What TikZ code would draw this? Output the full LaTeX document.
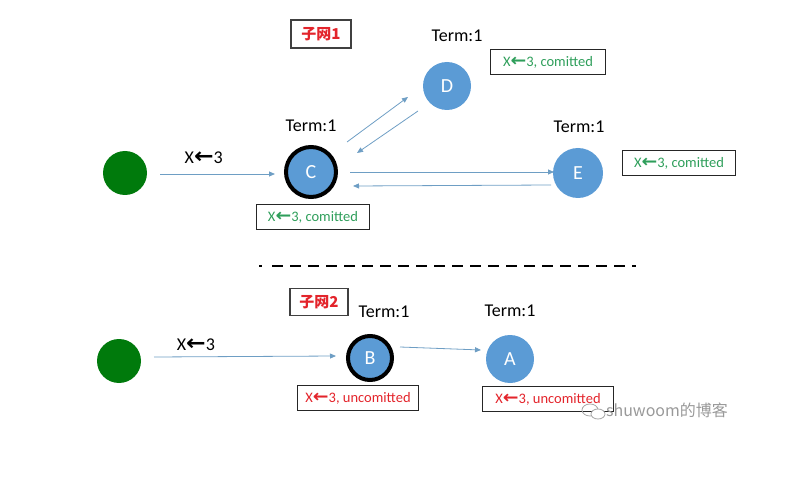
\documentclass[tikz,border=0pt]{standalone}
\usepackage{fontspec}
\setmainfont{Carlito}
\newfontfamily\cjkfont{Noto Sans CJK SC}
\newfontfamily\symfont{DejaVu Sans}
\usetikzlibrary{arrows.meta, calc}
\definecolor{cnode}{HTML}{5B9BD5}
\definecolor{cclient}{HTML}{007A0C}
\definecolor{cmsg}{HTML}{6E9EC4}
\definecolor{cok}{HTML}{2E9E5A}
\definecolor{cbad}{HTML}{E3242B}
\newcommand{\larr}{\scalebox{1.3}[1.2]{\symfont\bfseries ←}}
\tikzset{
  client/.style={circle, fill=cclient, minimum size=44pt, inner sep=0pt},
  server/.style={circle, fill=cnode, text=white, minimum size=48pt, inner sep=0pt, font=\fontsize{20}{22}\selectfont},
  leader/.style={server, draw=black, line width=4pt, minimum size=#1},
  leader/.default=50pt,
  term/.style={font=\fontsize{18}{20}\selectfont},
  logbox/.style={draw=black!85, line width=1.2pt, minimum width=#1, minimum height=25pt, inner sep=2pt, font=\fontsize{14.5}{16}\selectfont},
  logbox/.default=113pt,
  net/.style={draw=black!75, line width=1.2pt, minimum width=60pt, minimum height=28pt, text=cbad, font=\cjkfont\bfseries\fontsize{15}{17}\selectfont},
  msg/.style={-{Triangle[length=6pt,width=5pt]}, draw=cmsg, line width=0.8pt},
  msglabel/.style={font=\fontsize{18}{20}\selectfont},
  divider/.style={line width=2.8pt, dash pattern=on 11pt off 7pt},
}

\begin{document}
\begin{tikzpicture}[x=1pt, y=-1pt]
  \useasboundingbox (0,0) rectangle (801,484);
  % subnet 1
  \node[net] (net1) at (321,34) {子网1};
  \node[client] (c1) at (125,173) {};
  \node[leader] (C) at (311,172) {C};
  \node[server] (D) at (447,86) {D};
  \node[server, minimum size=50pt] (E) at (578,173) {E};
  \node[term] (tC) at (311,126) {Term:1};
  \node[term] (tD) at (457,36) {Term:1};
  \node[term] (tE) at (579,127) {Term:1};
  \node[logbox, text=cok] (lC) at (313,217) {X\larr3, comitted};
  \node[logbox=115pt, text=cok] (lD) at (548,62) {X\larr3, comitted};
  \node[logbox, text=cok] (lE) at (679,163) {X\larr3, comitted};
  \draw[msg] ($(c1)+(35,1)$) -- node[msglabel, pos=0.38, above=7pt] (m1) {X\larr3} ($(C)+(-36,2)$);
  \draw[msg] ($(C)+(36,-30)$) -- ($(D)+(-39,11)$);
  \draw[msg] ($(D)+(-29,25)$) -- ($(C)+(46,-19)$);
  \draw[msg] ($(C)+(39,0)$) -- ($(E)+(-24,-1)$);
  \draw[msg] ($(E)+(-27,12)$) -- ($(C)+(42,14)$);

  % partition
  \draw[divider] (259,266) -- (262,266);
  \draw[divider] (272,266) -- (636,266);

  % subnet 2
  \node[net, minimum width=58pt, minimum height=27pt] (net2) at (319,302) {子网2};
  \node[client] (c2) at (119,361) {};
  \node[leader=44pt] (B) at (370,358) {B};
  \node[server] (A) at (510,359) {A};
  \node[term] (tB) at (384,312) {Term:1};
  \node[term] (tA) at (510,311) {Term:1};
  \node[logbox=121pt, text=cbad] (lB) at (358,398) {X\larr3, uncomitted};
  \node[logbox=131pt, text=cbad] (lA) at (548,399) {X\larr3, uncomitted};
  \draw[msg] ($(c2)+(35,-4)$) -- node[msglabel, pos=0.23, above=2pt] (m2) {X\larr3} ($(B)+(-34,-2)$);
  \draw[msg] ($(B)+(30,-11)$) -- ($(A)+(-29,-9)$);

  % watermark
  \draw[black!35, line width=0.8pt] (590,410) ellipse (8pt and 6pt);
  \draw[black!35, line width=0.8pt, fill=white] (598,414) ellipse (7pt and 5pt);
  \node[font=\cjkfont\fontsize{16}{18}\selectfont, text=black!40] (wm) at (667,410) {shuwoom的博客};
\end{tikzpicture}
\end{document}
